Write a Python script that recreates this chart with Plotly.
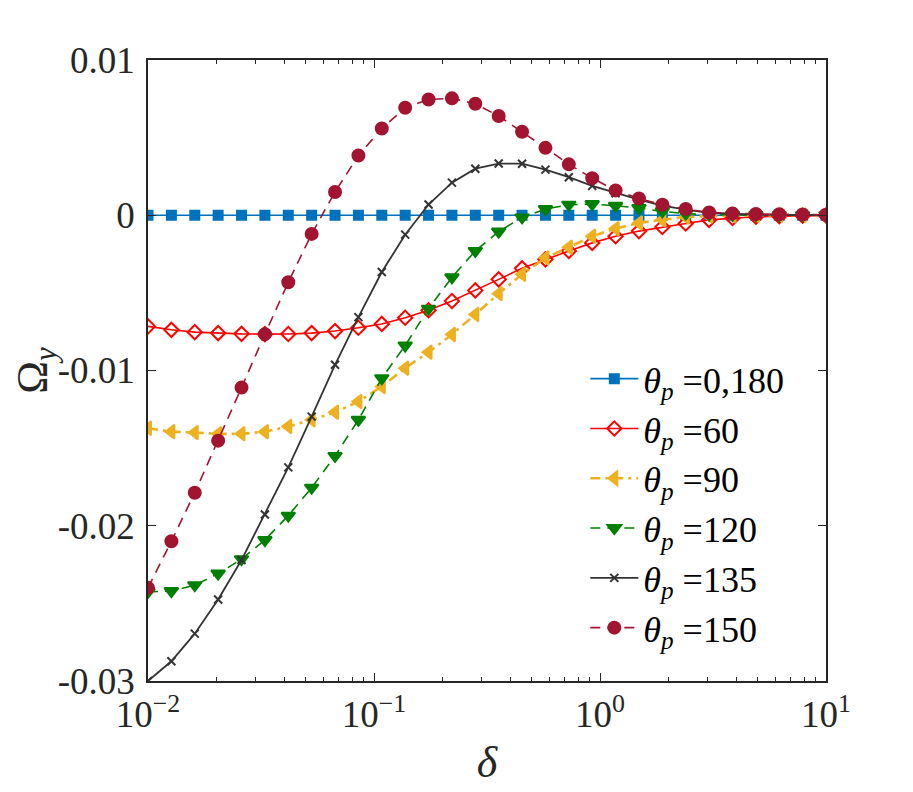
import plotly.graph_objects as go

# delta grid, 30 log-spaced samples from 1e-2 to 1e1
delta = [0.01, 0.012690, 0.016103, 0.020434, 0.025929, 0.032903, 0.041753,
         0.052983, 0.067234, 0.085317, 0.10826, 0.13738, 0.17433, 0.22122,
         0.28072, 0.35622, 0.45204, 0.57362, 0.72790, 0.92367, 1.1721,
         1.4874, 1.8874, 2.3950, 3.0392, 3.8566, 4.8939, 6.2102, 7.8805, 10.0]

# Omega_y for each theta_p
omega_0_180 = [0.0] * 30
omega_60 = [-0.00716, -0.00738, -0.00753, -0.00759, -0.00764, -0.00766, -0.00765,
            -0.00759, -0.00746, -0.00725, -0.00700, -0.00660, -0.00612, -0.00552,
            -0.00484, -0.00413, -0.00342, -0.00284, -0.00230, -0.00178, -0.00135,
            -0.00102, -0.00076, -0.00053, -0.00030, -0.00018, -0.00010, -0.00006,
            -0.00003, -0.00002]
omega_90 = [-0.01372, -0.01394, -0.01400, -0.01408, -0.01408, -0.01394, -0.01361,
            -0.01318, -0.01269, -0.01200, -0.01103, -0.00985, -0.00882, -0.00768,
            -0.00639, -0.00505, -0.00380, -0.00275, -0.00206, -0.00135, -0.00086,
            -0.00050, -0.00029, -0.00012, -0.00005, -0.00002, -0.00001, 0.0, 0.0, 0.0]
omega_120 = [-0.02426, -0.02421, -0.02383, -0.02308, -0.02215, -0.02092, -0.01935,
             -0.01755, -0.01550, -0.01318, -0.01050, -0.00839, -0.00602, -0.00400,
             -0.00230, -0.00105, -0.00014, 0.00040, 0.00068, 0.00072, 0.00061,
             0.00046, 0.00025, 0.00010, 0.00004, 0.00002, 0.00001, 0.0, 0.0, 0.0]
omega_135 = [-0.03000, -0.02873, -0.02695, -0.02475, -0.02221, -0.01927, -0.01624,
             -0.01297, -0.00963, -0.00656, -0.00366, -0.00125, 0.00069, 0.00210,
             0.00300, 0.00333, 0.00332, 0.00294, 0.00245, 0.00189, 0.00142,
             0.00100, 0.00062, 0.00036, 0.00016, 0.00008, 0.00004, 0.00002,
             0.00001, 0.0]
omega_150 = [-0.02400, -0.02100, -0.01787, -0.01452, -0.01110, -0.00766, -0.00432,
             -0.00120, 0.00150, 0.00385, 0.00559, 0.00692, 0.00746, 0.00753,
             0.00718, 0.00639, 0.00538, 0.00434, 0.00328, 0.00239, 0.00160,
             0.00108, 0.00068, 0.00040, 0.00018, 0.00012, 0.00008, 0.00006,
             0.00005, 0.00003]

theta_labels = ['0,180', '60', '90', '120', '135', '150']

x_tickvals = [0.01, 0.1, 1, 10]
x_ticktext = ['10<sup>\u22122</sup>', '10<sup>\u22121</sup>', '10<sup>0</sup>', '10<sup>1</sup>']
y_tickvals = [-0.03, -0.02, -0.01, 0, 0.01]
y_ticktext = ['-0.03', '-0.02', '-0.01', '0', '0.01']

FONT = 'Liberation Serif'
AXIS_COLOR = '#262626'

# (values, colour, symbol, size, dash, width)
styles = [
    (omega_0_180, '#0072BD', 'square', 9, 'solid', 1.6),
    (omega_60, '#FF0000', 'diamond-open', 11, 'solid', 1.6),
    (omega_90, '#EDB120', 'triangle-left', 12, '10px,5px,3px,5px', 2.6),
    (omega_120, '#008000', 'triangle-down', 12, '10px,7px', 1.6),
    (omega_135, '#333333', 'x-thin-open', 8, 'solid', 1.8),
    (omega_150, '#A2142F', 'circle', 12, '10px,7px', 1.6),
]

fig = go.Figure()
for label, (vals, color, symbol, size, dash, width) in zip(theta_labels, styles):
    fig.add_trace(go.Scatter(
        x=delta, y=vals, mode='lines+markers',
        name='<i>\u03b8</i><sub><i>p</i></sub> =' + label,
        line=dict(color=color, dash=dash, width=width),
        marker=dict(symbol=symbol, size=size, color=color,
                    line=dict(color=color, width=2))))

minor_x = [m * 10 ** e for e in (-2, -1, 0) for m in range(2, 10)]

fig.update_xaxes(
    type='log', range=[-2, 1],
    tickvals=x_tickvals, ticktext=x_ticktext,
    ticks='inside', ticklen=8, tickwidth=1.4, tickcolor=AXIS_COLOR,
    minor=dict(tickvals=minor_x, ticks='inside', ticklen=4, tickwidth=1.2,
               tickcolor=AXIS_COLOR, showgrid=False),
    showline=True, linecolor=AXIS_COLOR, linewidth=1.6, mirror='ticks',
    showgrid=False, zeroline=False,
    tickfont=dict(family=FONT, size=37, color=AXIS_COLOR),
    title=dict(text='<i>\u03b4</i>', font=dict(family=FONT, size=44, color=AXIS_COLOR),
               standoff=12))
fig.update_yaxes(
    range=[-0.03, 0.01],
    tickvals=y_tickvals, ticktext=y_ticktext,
    ticks='inside', ticklen=8, tickwidth=1.4, tickcolor=AXIS_COLOR,
    showline=True, linecolor=AXIS_COLOR, linewidth=1.6, mirror='ticks',
    showgrid=False, zeroline=False, ticklabelstandoff=4,
    tickfont=dict(family=FONT, size=37, color=AXIS_COLOR),
    title=dict(text='\u03a9<sub><i>y</i></sub>', font=dict(family=FONT, size=44, color=AXIS_COLOR),
               standoff=4))

fig.update_layout(
    width=913, height=792,
    margin=dict(l=140, r=95, t=52, b=119, autoexpand=False),
    paper_bgcolor='white', plot_bgcolor='white',
    legend=dict(x=0.645, y=0.535, xanchor='left', yanchor='top',
                bgcolor='rgba(0,0,0,0)', borderwidth=0, itemwidth=48,
                font=dict(family=FONT, size=36, color='black'),
                tracegroupgap=0))

fig.write_html('out.html')
